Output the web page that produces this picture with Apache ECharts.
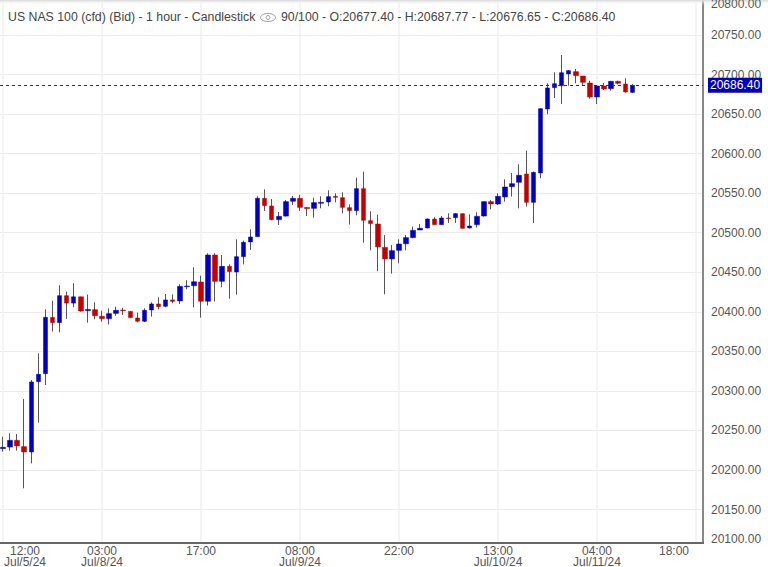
<!DOCTYPE html>
<html>
<head>
<meta charset="utf-8">
<title>US NAS 100</title>
<script src="https://cdn.jsdelivr.net/npm/echarts@6/dist/echarts.min.js"></script>
<style>
  html, body { margin: 0; padding: 0; background: #fff; }
  #chart { width: 768px; height: 567px; }
</style>
</head>
<body>
<div id="chart"></div>
<script>
// tick labels, one every 14 bars
var hourLabels = ['12:00', '03:00', '17:00', '08:00', '22:00', '13:00', '04:00', '18:00'];
var dateLabels = ['Jul/5/24', 'Jul/8/24', '', 'Jul/9/24', '', 'Jul/10/24', 'Jul/11/24', ''];

var opens = [20227, 20229, 20237.5, 20229.5, 20222.8, 20311.7, 20321.8, 20393, 20386.3, 20420.4,
  20411, 20419, 20401.4, 20402.7, 20394.3, 20391.3, 20398, 20402.3, 20400.6, 20392.2,
  20388, 20402.3, 20409.9, 20407, 20415, 20413.7, 20431.8, 20433, 20437.7, 20413.3,
  20471.8, 20438.5, 20457.5, 20450.3, 20469.7, 20488.3, 20495, 20543.5, 20533.8, 20516.5,
  20521, 20539.7, 20543.5, 20532, 20530.8, 20537.2, 20538.8, 20546, 20544.3, 20531.7,
  20527.9, 20555.7, 20515.2, 20511, 20481.5, 20466.8, 20477.7, 20486, 20493.8, 20503.4,
  20506, 20517.3, 20510.2, 20518.6, 20519, 20524.1, 20506, 20510.2, 20521.1, 20539.3,
  20536.3, 20545.2, 20558.2, 20563.7, 20574.2, 20538.4, 20575.5, 20656.4, 20683.4, 20685.9,
  20700.7, 20703.6, 20698.1, 20689.3, 20671.6, 20685.5, 20682.1, 20691.4, 20688, 20677.4];
var closes = [20228.7, 20237.5, 20230.4, 20222.8, 20311.3, 20321, 20393, 20386.3, 20420.4, 20411,
  20419, 20401, 20403, 20395, 20391.3, 20397.7, 20401.9, 20401.4, 20392.6, 20388,
  20401.9, 20409.9, 20406.5, 20415, 20413.2, 20432.2, 20432.6, 20438, 20413.3, 20471.8,
  20438.5, 20457.5, 20450.8, 20469.7, 20487.9, 20494.6, 20543.5, 20534.2, 20516.5, 20520.7,
  20539.3, 20543.5, 20532, 20530.4, 20538, 20538.4, 20545.6, 20544.7, 20532, 20527.9,
  20555.7, 20515.7, 20511.5, 20482, 20466.8, 20477.3, 20485.7, 20493.8, 20503, 20505.6,
  20517.3, 20510.2, 20518.6, 20517.8, 20524.1, 20505.5, 20508.5, 20520.7, 20539.3, 20536.3,
  20546, 20557.8, 20562, 20572.6, 20538.4, 20576.3, 20656.8, 20683, 20688.4, 20702.3,
  20704.9, 20698.6, 20690.1, 20671.6, 20685.5, 20681.7, 20691.4, 20688.9, 20677.9, 20686.4];
var lows = [20223.2, 20224.5, 20224.5, 20176.8, 20208.4, 20259.9, 20307.5, 20375, 20374, 20391,
  20405.7, 20400, 20386.3, 20390.5, 20387.5, 20384, 20395, 20396, 20392.6, 20386.7,
  20387, 20393.9, 20403, 20405.7, 20410.7, 20409.9, 20428.4, 20405.7, 20392.6, 20407.8,
  20412.9, 20431, 20416.6, 20421.7, 20460, 20478.2, 20495, 20527.5, 20515.7, 20509.8,
  20520.3, 20535, 20527.5, 20521.1, 20519, 20530.8, 20533.4, 20538.4, 20524.5, 20510.2,
  20522, 20487.4, 20477.7, 20451.2, 20422.1, 20448.2, 20461.3, 20477.7, 20493, 20503.4,
  20505.5, 20509.8, 20509.8, 20512.3, 20512.3, 20505.5, 20505.5, 20506.4, 20520.3, 20529.6,
  20535, 20539.3, 20545.6, 20530.8, 20533, 20512.3, 20568.8, 20649.7, 20670.3, 20662.7,
  20685.9, 20688.9, 20686.3, 20669.5, 20662.7, 20680.4, 20679.6, 20687.6, 20677, 20676.65];
var highs = [20242, 20246.4, 20245.5, 20289.8, 20313.8, 20347.5, 20403, 20414, 20433.5, 20425.5,
  20436, 20419, 20421.7, 20412, 20401.4, 20404.4, 20406.5, 20405, 20400.6, 20399,
  20404.4, 20412, 20418.3, 20422.5, 20422, 20434.7, 20440, 20456.2, 20445.7, 20473.9,
  20473.9, 20471.8, 20460, 20491.6, 20490, 20504.3, 20546, 20554.9, 20542.6, 20526.2,
  20541.4, 20546.4, 20548, 20532, 20544.3, 20546, 20553.6, 20549.8, 20551, 20535.9,
  20569.6, 20577.2, 20527, 20522.8, 20497, 20484.5, 20491.6, 20497, 20507.7, 20511,
  20518.2, 20519.5, 20521.1, 20524.5, 20524.5, 20524.1, 20523.2, 20525.8, 20539.3, 20541.4,
  20549.8, 20567.5, 20575.5, 20586.5, 20603.7, 20577.2, 20657.3, 20688.9, 20702.8, 20724.7,
  20705.7, 20707, 20698.1, 20692.2, 20686.3, 20689.3, 20691.4, 20692.2, 20695.2, 20687.77];

var tickEvery = 14;
var barCount = (hourLabels.length - 1) * tickEvery + 1;
var categories = [];
for (var i = 0; i < barCount; i++) {
  var t = i / tickEvery;
  categories.push(i % tickEvery === 0 ? hourLabels[t] + (dateLabels[t] ? '\n' + dateLabels[t] : '') : '');
}

var candles = [];
var bodies = [];
opens.forEach(function(o, i) {
  candles.push([o, closes[i], lows[i], highs[i]]);
  bodies.push([o, closes[i], Math.min(o, closes[i]), Math.max(o, closes[i])]);
});

var blue = '#0000c0';
var red = '#c40000';
var gridLine = '#ececec';
var textColor = '#555';
var font = '"Liberation Sans", Arial, sans-serif';
var isTick = function(i) { return i % tickEvery === 0; };

var chart = echarts.init(document.getElementById('chart'), null, { renderer: 'svg' });
chart.setOption({
  animation: false,
  textStyle: { fontFamily: font },
  grid: [
    { left: 3, right: 72, top: 2, bottom: 24, outerBoundsMode: 'none' },
    { left: 0, right: 65, top: -4.6, bottom: 17.9, outerBoundsMode: 'none' }
  ],
  xAxis: [
    {
      type: 'category',
      gridIndex: 0,
      data: categories,
      boundaryGap: false,
      axisLine: { show: false },
      axisTick: { show: false },
      splitLine: { show: true, interval: isTick, lineStyle: { color: '#f0f0f0', width: 1.5 } },
      axisLabel: {
        interval: isTick,
        color: textColor,
        fontSize: 12,
        lineHeight: 11,
        margin: 2,
        alignMinLabel: 'left',
        alignMaxLabel: 'right',
        formatter: function(value, index) {
          if (index !== 0 && index !== barCount - 1) return value;
          return value.split('\n').map(function(s) { return '{e|' + s + '}'; }).join('\n');
        },
        rich: { e: { width: 44, align: 'center', color: textColor, fontSize: 12, lineHeight: 11 } }
      }
    },
    { type: 'value', gridIndex: 1, min: 0, max: 1, show: false }
  ],
  yAxis: [
    // candles only, lined up with the price axis below
    { type: 'value', gridIndex: 0, min: 20107.7, max: 20791.66, show: false },
    {
      type: 'value',
      gridIndex: 1,
      position: 'right',
      min: 20100,
      max: 20800,
      interval: 50,
      axisLine: { show: false },
      axisTick: { show: false },
      splitLine: { show: true, showMinLine: false, showMaxLine: false, lineStyle: { color: gridLine, width: 1 } },
      axisLabel: {
        showMinLabel: false,
        showMaxLabel: false,
        color: textColor,
        fontSize: 12,
        margin: 8,
        formatter: function(v) { return v.toFixed(2); }
      }
    }
  ],
  series: [
    {
      type: 'candlestick',
      name: 'wicks',
      xAxisIndex: 0,
      yAxisIndex: 0,
      data: candles,
      barWidth: 1,
      clip: false,
      itemStyle: { color: '#555', color0: '#555', borderColor: '#555', borderColor0: '#555', borderWidth: 1 }
    },
    {
      type: 'candlestick',
      name: 'bodies',
      xAxisIndex: 0,
      yAxisIndex: 0,
      data: bodies,
      barWidth: 5,
      clip: false,
      itemStyle: { color: blue, color0: red, borderColor: blue, borderColor0: red, borderWidth: 0.5 }
    },
    {
      type: 'line',
      name: 'last',
      xAxisIndex: 1,
      yAxisIndex: 1,
      data: [],
      silent: true,
      markLine: {
        silent: true,
        symbol: 'none',
        lineStyle: { color: '#333', type: [3, 3], width: 1 },
        label: {
          position: 'end',
          distance: 5,
          color: '#fff',
          fontSize: 12,
          backgroundColor: blue,
          padding: [2, 2, 1, 2],
          formatter: function(p) { return p.value.toFixed(2); }
        },
        data: [{ yAxis: closes[closes.length - 1] }]
      }
    }
  ],
  graphic: [
    { type: 'line', z: 5, shape: { x1: 703, y1: 0, x2: 703, y2: 543 }, style: { stroke: '#888', lineWidth: 2 } },
    { type: 'line', z: 5, shape: { x1: 0, y1: 543, x2: 704, y2: 543 }, style: { stroke: '#666', lineWidth: 2 } },
    {
      type: 'rect', z: 6, shape: { x: 0, y: 0, width: 768, height: 5 },
      style: { fill: new echarts.graphic.LinearGradient(0, 0, 0, 1, [{ offset: 0, color: '#d8d8d8' }, { offset: 1, color: 'rgba(255,255,255,0)' }]) }
    },
    { type: 'text', z: 7, x: 8, y: 17, style: { text: 'US NAS 100 (cfd) (Bid) - 1 hour - Candlestick', fill: '#444', font: '12.3px ' + font, verticalAlign: 'middle' } },
    { type: 'ellipse', z: 7, shape: { cx: 268, cy: 17.5, rx: 7.5, ry: 4 }, style: { fill: 'none', stroke: '#999', lineWidth: 1 } },
    { type: 'circle', z: 7, shape: { cx: 268, cy: 17.5, r: 2 }, style: { fill: 'none', stroke: '#999', lineWidth: 1 } },
    { type: 'text', z: 7, x: 281, y: 17, style: { text: '90/100 - O:20677.40 - H:20687.77 - L:20676.65 - C:20686.40', fill: '#444', font: '12.3px ' + font, verticalAlign: 'middle' } },
    // these two sit past the visible scale, so they are pushed inside it
    { type: 'text', z: 7, x: 711, y: 4, style: { text: '20800.00', fill: textColor, font: '12px ' + font, verticalAlign: 'middle' } },
    { type: 'text', z: 7, x: 711, y: 539, style: { text: '20100.00', fill: textColor, font: '12px ' + font, verticalAlign: 'middle' } }
  ]
});
window.addEventListener('resize', function() { chart.resize(); });
</script>
</body>
</html>
